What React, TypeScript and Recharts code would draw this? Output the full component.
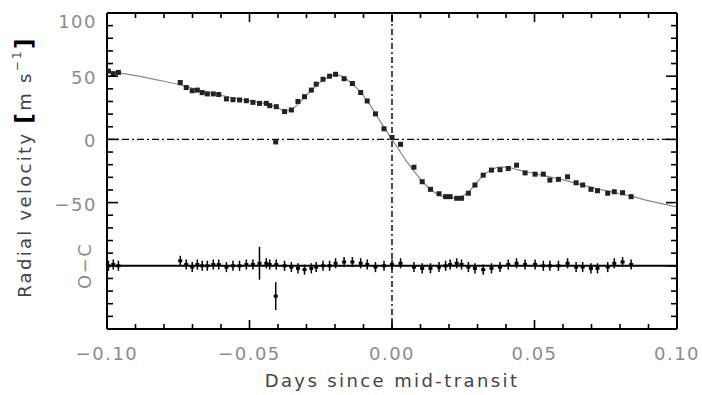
import React from "react";
import { ComposedChart, Line, Scatter, XAxis, YAxis, ReferenceLine, ErrorBar } from "recharts";

// observations: time (days from mid-transit), RV (m/s), O-C residual (m/s), O-C error (m/s)
const obsTime = [
  -0.0995, -0.0978, -0.096, -0.0743, -0.0722, -0.0701, -0.0683, -0.0666, -0.0648, -0.0627,
  -0.0608, -0.0581, -0.0558, -0.0535, -0.0511, -0.0488, -0.0465, -0.0441, -0.0429, -0.0406,
  -0.0408, -0.0377, -0.0353, -0.033, -0.0307, -0.0283, -0.0266, -0.0242, -0.0219, -0.0198,
  -0.0168, -0.0139, -0.011, -0.0087, -0.0058, -0.0028, 0.0, 0.003, 0.0077, 0.0106,
  0.0135, 0.0165, 0.0188, 0.0204, 0.0227, 0.0244, 0.0268, 0.0291, 0.032, 0.0349,
  0.0379, 0.0408, 0.0437, 0.0467, 0.0502, 0.0531, 0.0554, 0.0584, 0.0616, 0.0646,
  0.0669, 0.0698, 0.0721, 0.0757, 0.078, 0.0809, 0.0839,
];
const obsRv = [
  54, 52, 53, 45, 41, 38.5, 39, 37, 36, 36,
  35.5, 32, 31.4, 31.2, 30.6, 29.3, 28.5, 28.5, 26.7, 25.9,
  -2, 22, 23.3, 30, 33.8, 39, 43.7, 47.6, 50, 51.5,
  48, 44.2, 37.1, 30.4, 20.2, 8.4, 1.5, -3.9, -22, -33.5,
  -39.5, -43, -45.3, -45.3, -46.6, -46.6, -42.6, -36.1, -28.3, -24.3,
  -24, -23, -20.4, -26.5, -27.5, -27.5, -32.2, -31.6, -29.6, -34.3,
  -36.1, -39.5, -40.6, -42.6, -41.4, -42.2, -45.3,
];
const obsOc = [
  0, 1, 0, 4, 1, -1, 1, 0, 0, 1,
  1, -1, 0, 0, 1, 1, 2, 2, 1, 1,
  -24, 0, -1, -2, -3, -2, -1, 0, 0, 2,
  3, 3, 2, 1, -1, 0, 1, 2, -1, -2,
  -2, -1, 0, 1, 2, 1, -1, -2, -3, -2,
  -1, 1, 2, 1, 1, 0, 0, 0, 2, -1,
  -1, -2, -2, -1, 2, 3, 1,
];
const obsOcErr = [
  4, 4, 4, 4, 4, 4, 4, 4, 4, 4,
  4, 4, 4, 4, 4, 4, 13, 4, 4, 4,
  11, 4, 4, 4, 4, 4, 4, 4, 4, 4,
  4, 4, 4, 4, 4, 4, 4, 4, 4, 4,
  4, 4, 4, 4, 4, 4, 4, 4, 4, 4,
  4, 4, 4, 4, 4, 4, 4, 4, 4, 4,
  4, 4, 4, 4, 4, 4, 4,
];

// fitted model curve
const modelTime = [
  -0.1, -0.09, -0.08, -0.075, -0.07, -0.065, -0.06, -0.055, -0.05, -0.045,
  -0.0425, -0.04, -0.0375, -0.035, -0.0325, -0.03, -0.0275, -0.025, -0.0225, -0.02,
  -0.0175, -0.015, -0.0125, -0.01, -0.0075, -0.005, -0.0025, 0, 0.0025, 0.005,
  0.0075, 0.01, 0.0125, 0.015, 0.0175, 0.02, 0.0225, 0.025, 0.0275, 0.03,
  0.0325, 0.035, 0.0375, 0.04, 0.0425, 0.045, 0.05, 0.055, 0.06, 0.065,
  0.07, 0.075, 0.08, 0.085, 0.09, 0.095, 0.1,
];
const modelRv = [
  54, 50.5, 46, 43.5, 40.5, 37.5, 35, 32.5, 30.5, 28.5,
  27, 25, 22.5, 24, 29, 35, 40.5, 45.5, 49, 51,
  50, 46, 41, 34.5, 26.5, 17.5, 8.5, 0, -8.5, -17,
  -24.5, -31.5, -37.5, -42, -45, -46.5, -46.5, -44.5, -40, -33.5,
  -27.5, -24, -22, -22, -23, -24.5, -27, -29.5, -32, -35,
  -38, -40.5, -43, -45.5, -48.5, -51, -53.5,
];

const xTicks = [
  -0.1, -0.09, -0.08, -0.07, -0.06, -0.05, -0.04, -0.03, -0.02, -0.01, 0,
  0.01, 0.02, 0.03, 0.04, 0.05, 0.06, 0.07, 0.08, 0.09, 0.1,
];
const xLabelTicks = [-0.1, -0.05, 0, 0.05, 0.1];
const xTickLabels = ["\u22120.10", "\u22120.05", "0.00", "0.05", "0.10"];
const yTicks = [
  -150, -140, -130, -120, -110, -100, -90, -80, -70, -60, -50, -40, -30,
  -20, -10, 0, 10, 20, 30, 40, 50, 60, 70, 80, 90, 100,
];
const yLabelTicks = [100, 50, 0, -50];
const yTickLabels = ["100", "50", "0", "\u221250"];

const OC_OFFSET = -100;

const rvData = obsTime.map((t, i) => ({ t, v: obsRv[i] }));
const ocData = obsTime.map((t, i) => ({ t, v: obsOc[i] + OC_OFFSET, e: obsOcErr[i] }));
const modelData = modelTime.map((t, i) => ({ t, v: modelRv[i] }));

const FONT = "'DejaVu Sans', sans-serif";
const TICK_GRAY = "#8c8c8c";

const findLabel = (vals: number[], labels: string[], v: number) => {
  const i = vals.findIndex((a) => Math.abs(a - v) < 1e-9);
  return i < 0 ? null : labels[i];
};
const isMajorX = (v: number) => Math.round(v * 100) % 5 === 0;
const isMajorY = (v: number) => Math.round(v) % 50 === 0;

function BottomTick({ x, y, payload }: any) {
  const v = payload.value;
  const lab = findLabel(xLabelTicks, xTickLabels, v);
  return (
    <g>
      <line x1={x} x2={x} y1={y} y2={y - (isMajorX(v) ? 9 : 5)} stroke="#000" strokeWidth={1.6} />
      {lab && (
        <text x={x} y={y + 31} textAnchor="middle" fontFamily={FONT} fontSize={18} letterSpacing={1.5} fill={TICK_GRAY}>
          {lab}
        </text>
      )}
    </g>
  );
}

function TopTick({ x, y, payload }: any) {
  const v = payload.value;
  return <line x1={x} x2={x} y1={y} y2={y + (isMajorX(v) ? 9 : 5)} stroke="#000" strokeWidth={1.6} />;
}

function LeftTick({ x, y, payload }: any) {
  const v = payload.value;
  const lab = findLabel(yLabelTicks, yTickLabels, v);
  const isOC = Math.round(v) === OC_OFFSET;
  return (
    <g>
      <line x1={x} x2={x + (isMajorY(v) ? 11 : 6)} y1={y} y2={y} stroke="#000" strokeWidth={1.6} />
      {lab && (
        <text
          x={x - 10}
          y={y + (v === 100 ? 15 : 8)}
          textAnchor="end"
          fontFamily={FONT}
          fontSize={18}
          letterSpacing={1.5}
          fill={TICK_GRAY}
        >
          {lab}
        </text>
      )}
      {isOC && (
        <text
          x={x - 22}
          y={y}
          transform={`rotate(-90, ${x - 22}, ${y})`}
          textAnchor="middle"
          dominantBaseline="central"
          fontFamily={FONT}
          fontSize={18}
          letterSpacing={1.5}
          fill={TICK_GRAY}
        >
          O{"\u2212"}C
        </text>
      )}
    </g>
  );
}

function RightTick({ x, y, payload }: any) {
  const v = payload.value;
  return <line x1={x} x2={x - (isMajorY(v) ? 11 : 6)} y1={y} y2={y} stroke="#000" strokeWidth={1.6} />;
}

function XTitle({ viewBox }: any) {
  const { x, y, width } = viewBox;
  return (
    <text x={x + width / 2} y={y + 58} textAnchor="middle" fontFamily={FONT} fontSize={18} letterSpacing={2.4} fill="#444">
      Days since mid-transit
    </text>
  );
}

function YTitle({ viewBox }: any) {
  const { x, y, height } = viewBox;
  const cx = x + 17;
  const cy = y + height / 2 - 4;
  return (
    <text
      x={cx}
      y={cy}
      transform={`rotate(-90, ${cx}, ${cy})`}
      textAnchor="middle"
      dominantBaseline="central"
      fontFamily={FONT}
      fontSize={18}
      letterSpacing={2.3}
      fill="#444"
    >
      Radial velocity{" "}
      <tspan fontWeight="bold" fontSize={23} fill="#000">[</tspan>
      m s
      <tspan fontSize={12} dy={-7}>{"\u2212"}1</tspan>
      <tspan fontWeight="bold" fontSize={23} fill="#000" dy={7}>]</tspan>
    </text>
  );
}

const frame = { stroke: "#000", strokeWidth: 2 };

export default function App() {
  return (
    <div style={{ position: "absolute", left: 0, top: 0, width: 702, height: 395, background: "#fff" }}>
      <ComposedChart width={702} height={395} margin={{ top: 8, right: 15, bottom: 26, left: 7 }}>
        <XAxis
          type="number"
          dataKey="t"
          domain={[-0.1, 0.1]}
          allowDataOverflow
          ticks={xTicks}
          interval={0}
          tick={BottomTick}
          tickLine={false}
          tickSize={0}
          tickMargin={0}
          axisLine={frame}
          height={40}
          label={XTitle}
        />
        <XAxis
          xAxisId="top"
          orientation="top"
          type="number"
          dataKey="t"
          domain={[-0.1, 0.1]}
          allowDataOverflow
          ticks={xTicks}
          interval={0}
          tick={TopTick}
          tickLine={false}
          tickSize={0}
          tickMargin={0}
          axisLine={frame}
          height={5}
        />
        <YAxis
          type="number"
          dataKey="v"
          domain={[-150, 100]}
          allowDataOverflow
          ticks={yTicks}
          interval={0}
          tick={LeftTick}
          tickLine={false}
          tickSize={0}
          tickMargin={0}
          axisLine={frame}
          width={100}
          label={YTitle}
        />
        <YAxis
          yAxisId="right"
          orientation="right"
          type="number"
          dataKey="v"
          domain={[-150, 100]}
          allowDataOverflow
          ticks={yTicks}
          interval={0}
          tick={RightTick}
          tickLine={false}
          tickSize={0}
          tickMargin={0}
          axisLine={frame}
          width={10}
        />
        <ReferenceLine y={0} stroke="#000" strokeWidth={1.4} strokeDasharray="7 3 2 3" />
        <ReferenceLine x={0} stroke="#000" strokeWidth={1.4} strokeDasharray="6 3 2 3" />
        <ReferenceLine y={OC_OFFSET} stroke="#000" strokeWidth={2} />
        <Line
          data={modelData}
          dataKey="v"
          type="monotone"
          stroke="#8a8a8a"
          strokeWidth={1.2}
          dot={false}
          isAnimationActive={false}
        />
        <Scatter
          data={rvData}
          dataKey="v"
          isAnimationActive={false}
          shape={({ cx, cy }: any) => <rect x={cx - 2.5} y={cy - 2.5} width={5} height={5} fill="#222" />}
        />
        <Scatter
          data={ocData}
          dataKey="v"
          isAnimationActive={false}
          shape={({ cx, cy }: any) => <rect x={cx - 2} y={cy - 1.5} width={4} height={3} fill="#000" />}
        >
          <ErrorBar dataKey="e" direction="y" width={0} stroke="#000" strokeWidth={1.5} />
        </Scatter>
      </ComposedChart>
    </div>
  );
}
